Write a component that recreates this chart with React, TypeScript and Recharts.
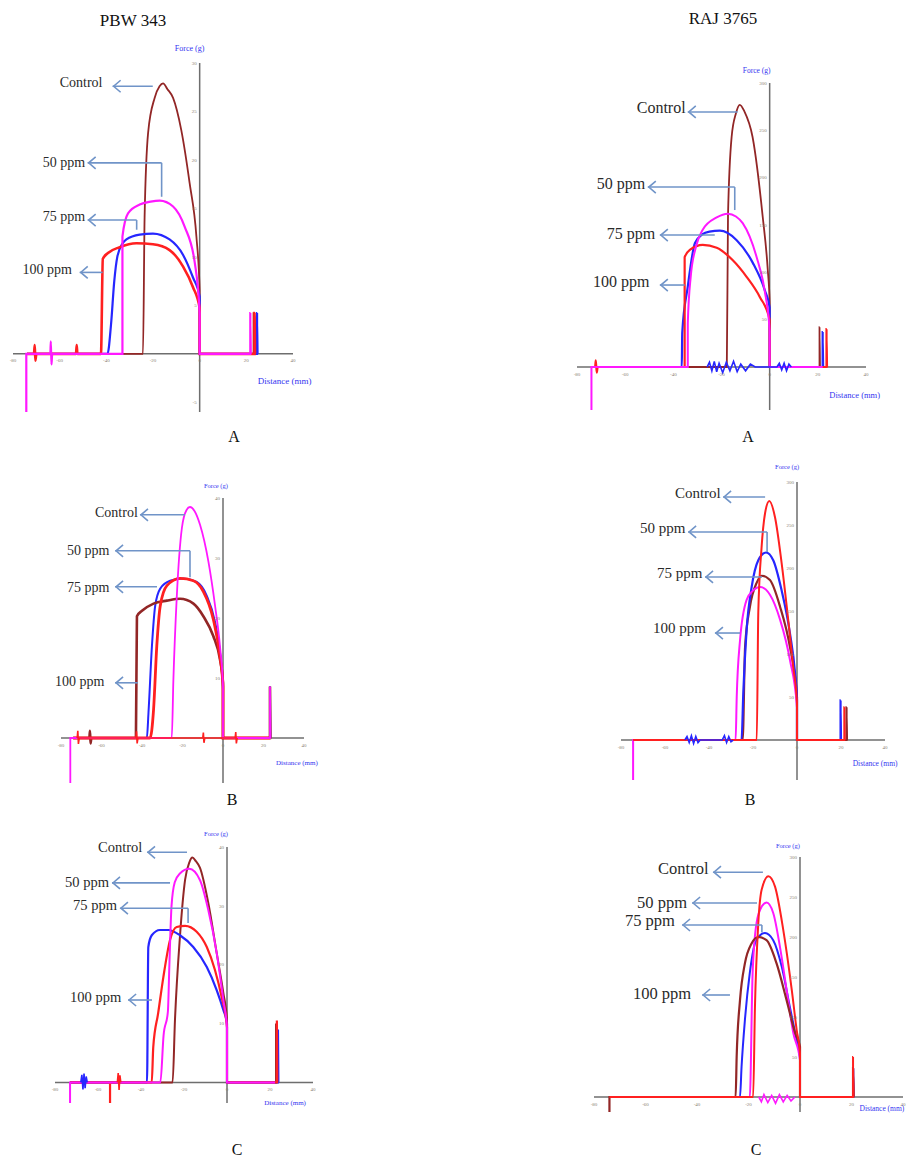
import React from "react";
import {
  LineChart,
  Line,
  XAxis,
  YAxis,
  ReferenceLine,
  ReferenceDot,
} from "recharts";

type Pair = [number, number];

const BROWN = "#922626";
const RED = "#ff2020";
const BLUE = "#2626ff";
const MAGENTA = "#ff18ff";
const ARROW = "#7094c8";
const AXIS = "#6e6e6e";
const TICK = "#8a8070";
const AXIS_TITLE = "#3434f0";

// distance ticks (mm), shared by all panels
const xTicks = [-80, -60, -40, -20, 0, 20, 40];
const pbwATicks = [30, 25, 20, 15, 10, 5, -5];
const pbwTicks = [40, 30, 20, 10];
const rajTicks = [300, 250, 200, 150, 100, 50];

// ---------- PBW 343, A ----------
const pbwA_control: Pair[] = [[-74.3, 0], [-24.3, 0], [-23.6, 14.1], [-22.1, 22.8], [-19.3, 26.4], [-17.2, 27.6], [-15.7, 27.9], [-13.8, 27.3], [-11.4, 26.4], [-7.9, 23.1], [-4.3, 17.6], [-1.4, 12.1], [0, 6.5], [0, 0], [23.1, 0], [23.1, 4.2], [23.3, 0]];
const pbwA_50: Pair[] = [[-74.3, -6.5], [-74.3, 0], [-64, 0], [-63.8, 1.3], [-63.5, -1.1], [-63.2, 0], [-33.1, 0], [-33.1, 12.1], [-30.7, 14.5], [-25.7, 15.4], [-21, 15.7], [-17.1, 15.8], [-11.4, 15.2], [-6.4, 13.1], [-2.1, 9.4], [0, 4.2], [0, 0], [21.7, 0], [21.7, 4.2], [21.9, 0]];
const pbwA_75: Pair[] = [[-74, 0], [-39.5, 0], [-38, 3], [-36.6, 7.5], [-35.3, 10], [-33, 11.4], [-31.4, 11.8], [-25.7, 12.3], [-20, 12.4], [-12.9, 11.8], [-7.1, 10.2], [-2.9, 7.9], [0, 5.9], [0, 0], [24.6, 0], [24.6, 4.2], [24.8, 0]];
const pbwA_100: Pair[] = [[-74, 0], [-71, 0], [-70.7, 0.9], [-70.4, -0.7], [-70, 0], [-53, 0], [-52.7, 0.9], [-52.4, 0], [-42.3, 0], [-41.5, 9.8], [-39.3, 10.4], [-34.3, 11], [-27.1, 11.4], [-20, 11.3], [-12.9, 10.7], [-7.1, 9], [-2.9, 6.9], [0, 4.7], [0, 0], [23.5, 0], [23.5, 4.2], [23.7, 0]];

// ---------- RAJ 3765, A ----------
const rajA_control: Pair[] = [[-74, 0], [-17.8, 0], [-17.3, 160], [-15.8, 243], [-14, 268], [-12.4, 277], [-10.5, 270], [-7.1, 243], [-2.9, 159], [-0.8, 103], [0, 68], [0, 0], [20.7, 0], [20.7, 42], [20.9, 0]];
const rajA_50: Pair[] = [[-74, -45.4], [-74, 0], [-34, 0], [-34, 46], [-32.8, 95], [-30.5, 128], [-27.8, 145], [-22, 158], [-17.4, 162], [-14, 159], [-11.2, 152], [-5.4, 116], [-2.1, 81], [0, 38], [0, 0], [22, 0]];
const rajA_75: Pair[] = [[-74, 0], [-36.5, 0], [-36.3, 36], [-34, 85], [-31, 131], [-28, 140], [-25, 143], [-20.7, 144], [-13.7, 134], [-7, 110], [-2, 81], [0, 63], [0, 0], [22, 0], [22, 37], [22.2, 0]];
const rajA_75_noise: Pair[] = [[-26, 0], [-25, 5], [-24, -4], [-23, 6], [-22, -5], [-21, 4], [-19.5, -6], [-18, 5], [-16.5, -4], [-15, 6], [-13.5, -5], [-12, 3], [-10, -4], [-8, 3], [-6, 0], [3, 0], [4, 4], [5, -3], [6, 4], [7, -4], [8, 3], [9, 0]];
const rajA_100: Pair[] = [[-74, 0], [-72.5, 0], [-72.2, 7], [-71.8, -6], [-71.4, 0], [-35.3, 0], [-35.3, 116], [-33, 124], [-27.8, 129], [-22, 126], [-15.4, 113], [-9.5, 95], [-4.1, 74], [0, 50], [0, 0], [23.6, 0], [23.6, 40], [23.8, 0]];

// ---------- PBW 343, B ----------
const pbwB_control: Pair[] = [[-75.4, -7.5], [-75.4, 0], [-25.3, 0], [-24.5, 9.7], [-22.8, 23.7], [-20.3, 35], [-18, 38], [-16.3, 38.5], [-14, 37.8], [-11.3, 35.5], [-7.2, 29.4], [-3.9, 22], [-1.5, 15.3], [0, 8.6], [0, 0], [23.2, 0], [23.2, 8.6], [23.4, 0]];
const pbwB_50: Pair[] = [[-74, 0], [-37.6, 0], [-36.8, 4.2], [-35.1, 15.3], [-33.5, 22], [-31, 24.9], [-26.1, 26.2], [-19.6, 26.6], [-13, 26], [-8, 23.7], [-3.9, 19.3], [-1.5, 14.3], [0, 8], [0, 0], [23.2, 0], [23.2, 8.6], [23.4, 0]];
const pbwB_75: Pair[] = [[-74, 0], [-36, 0], [-34.3, 4.7], [-32.7, 15.3], [-31, 22], [-27.7, 25.4], [-21.2, 26.6], [-14.6, 26.2], [-9.7, 24.4], [-4.8, 19.8], [-1.5, 13.6], [0, 8.6], [0, 0], [23.4, 0]];
const pbwB_75_noise: Pair[] = [[-72, 0], [-71.7, 1.2], [-71.4, -1], [-71, 0], [-43, 0], [-42.7, 1.1], [-42.4, -0.9], [-42, 0], [-10, 0], [-9.7, 0.9], [-9.4, -0.8], [-9, 0], [6, 0], [6.3, 1], [6.6, -0.9], [7, 0]];
const pbwB_100: Pair[] = [[-74, 0], [-66, 0], [-65.7, 1.2], [-65.4, -0.9], [-65, 0], [-43, 0], [-42.5, 20.3], [-40, 21.2], [-34.3, 22.4], [-27.7, 22.9], [-21.2, 23.2], [-14.6, 22.4], [-9.7, 20.3], [-4.8, 17], [-1.5, 13.1], [0, 9.2], [0, 0], [23.2, 0], [23.2, 8.6], [23.4, 0]];

// ---------- RAJ 3765, B ----------
const rajB_control: Pair[] = [[-74.5, 0], [-18.3, 0], [-17.6, 148], [-16.1, 224], [-14.5, 264], [-12.6, 278], [-10, 259], [-7, 206], [-4, 140], [-1.7, 85], [0, 43], [0, 0], [21.5, 0], [21.5, 38], [21.7, 0]];
const rajB_50: Pair[] = [[-74.5, 0], [-25.2, 0], [-24.4, 55], [-22.9, 128], [-20.6, 178], [-17.6, 209], [-14.1, 218], [-10.8, 209], [-7, 174], [-3.2, 124], [-0.9, 78], [0, 46], [0, 0], [19.8, 0], [19.8, 46], [20, 0]];
const rajB_50_noise: Pair[] = [[-51, 0], [-50, 4], [-49, -3], [-48, 5], [-47, -4], [-46, 4], [-45, -3], [-44, 0], [-34, 0], [-33, 5], [-32, -3], [-31, 4], [-30, -2], [-29, 0]];
const rajB_75: Pair[] = [[-74.5, 0], [-24.7, 0], [-23.6, 108], [-21.4, 155], [-18.3, 183], [-16.1, 191], [-12.3, 186], [-7.7, 155], [-3.2, 108], [0, 50], [0, 0], [22.5, 0], [22.5, 38], [22.7, 0]];
const rajB_100: Pair[] = [[-74.5, -46.5], [-74.5, 0], [-27.9, 0], [-27.4, 50], [-25.9, 116], [-22.9, 163], [-19.9, 174], [-16.8, 178], [-12.3, 169], [-7.7, 140], [-3.2, 93], [0, 38], [0, 0], [20.5, 0]];

// ---------- PBW 343, C ----------
const pbwC_control: Pair[] = [[-73, 0], [-25.3, 0], [-24.2, 10.6], [-21.9, 24.7], [-19.5, 34.4], [-17.5, 37.4], [-16.1, 38.2], [-14.5, 37.6], [-12.6, 36.5], [-8.7, 30.5], [-4.8, 22], [-1.7, 15.2], [0, 10.6], [0, 0], [22.8, 0], [22.8, 10], [23, 0]];
const pbwC_50: Pair[] = [[-73, -3.6], [-73, 0], [-31, 0], [-29.5, 8], [-27.5, 12], [-26.8, 20], [-25.8, 30], [-24.3, 34], [-21.9, 35.5], [-17.5, 36.3], [-12.6, 34.4], [-8.7, 29.3], [-4.8, 22], [-1.7, 14], [0, 9.2], [0, 0], [22.3, 0]];
const pbwC_75: Pair[] = [[-73, 0], [-54.4, 0], [-54.4, -3.6], [-54.4, 0], [-35, 0], [-34.3, 6], [-32, 11.8], [-29.6, 17.9], [-26.5, 24.2], [-23.4, 26.4], [-19.5, 26.6], [-14.1, 25.6], [-9.4, 23], [-5.6, 19.1], [-2.5, 14.5], [0, 9.4], [0, 0], [23.2, 0], [23.2, 10.5], [23.4, 0]];
const pbwC_75_noise: Pair[] = [[-51, 0], [-50.6, 1.6], [-50.2, -1.3], [-49.8, 1.2], [-49.4, 0]];
const pbwC_100: Pair[] = [[-73, 0], [-37.2, 0], [-36.6, 23], [-35, 25], [-31.2, 25.9], [-27.3, 25.9], [-21.9, 25], [-15.7, 23], [-9.4, 19.6], [-4.8, 15.7], [-1.7, 12.3], [0, 10], [0, 0], [23.7, 0], [23.7, 9], [23.9, 0]];
const pbwC_100_noise: Pair[] = [[-68, 0], [-67.5, 1.3], [-67, -1.2], [-66.5, 1.5], [-66, -1], [-65.5, 1], [-65, 0]];

// ---------- RAJ 3765, C ----------
const rajC_control: Pair[] = [[-74, 0], [-18.2, 0], [-17.5, 112], [-16.2, 217], [-14.9, 259], [-12.3, 276], [-9.7, 263], [-6.5, 209], [-3.2, 134], [-1.3, 84], [0, 55], [0, 0], [20.6, 0], [20.6, 50], [20.8, 0]];
const rajC_50: Pair[] = [[-74, 0], [-19.5, 0], [-18.4, 155], [-16.9, 217], [-14.9, 238], [-13, 243], [-10.4, 230], [-7.8, 188], [-5.2, 134], [-2.6, 80], [0, 46], [0, 0], [20.6, 0]];
const rajC_50_noise: Pair[] = [[-16, 0], [-15, -6], [-14, 3], [-12.5, -7], [-11, 2], [-9.5, -8], [-8, 3], [-6.5, -6], [-5, 2], [-3.5, -5], [-2, 0]];
const rajC_75: Pair[] = [[-74, 0], [-23.3, 0], [-22.7, 37.5], [-21.4, 96], [-19.5, 155], [-17.5, 192], [-15.6, 202], [-13.6, 205], [-10.4, 196], [-7.1, 163], [-3.9, 112], [-1.3, 71], [0, 50], [0, 0], [20.7, 0], [20.7, 36], [20.9, 0]];
const rajC_100: Pair[] = [[-74, -18.75], [-74, 0], [-25, 0], [-24.6, 50], [-23.3, 121], [-21.4, 167], [-18.8, 192], [-16.2, 200], [-13, 196], [-9.1, 167], [-5.2, 121], [-1.9, 80], [0, 63], [0, 0], [20.6, 0], [20.6, 36], [20.8, 0]];

// label text position + arrow path (data units), per panel
type Note = { text: string; at: Pair; arrow: Pair[] };
const labels = ["Control", "50 ppm", "75 ppm", "100 ppm"];

const pbwANotes: Note[] = [
  { text: labels[0], at: [-60, 28], arrow: [[-20.1, 27.6], [-37.3, 27.6]] },
  { text: labels[1], at: [-67.3, 19.8], arrow: [[-16.3, 16.2], [-16.3, 19.7], [-48, 19.7]] },
  { text: labels[2], at: [-67.3, 14.2], arrow: [[-27, 12.8], [-27, 13.8], [-48, 13.8]] },
  { text: labels[3], at: [-75.9, 8.7], arrow: [[-41.6, 8.4], [-51.4, 8.4]] },
];
const rajANotes: Note[] = [
  { text: labels[0], at: [-55.2, 274.6], arrow: [[-13.3, 269.4], [-34, 269.4]] },
  { text: labels[1], at: [-71.8, 194.4], arrow: [[-14.5, 165.8], [-14.5, 190.1], [-50.6, 190.1]] },
  { text: labels[2], at: [-67.6, 141.5], arrow: [[-22.8, 139.4], [-45.6, 139.4]] },
  { text: labels[3], at: [-73.4, 90.8], arrow: [[-35.3, 86.6], [-45.6, 86.6]] },
];
const pbwBNotes: Note[] = [
  { text: labels[0], at: [-63.2, 37.7], arrow: [[-18.8, 37.2], [-41, 37.2]] },
  { text: labels[1], at: [-77, 31.3], arrow: [[-16.3, 26.8], [-16.3, 31.2], [-53.3, 31.2]] },
  { text: labels[2], at: [-77, 25.2], arrow: [[-32.6, 25.2], [-53.3, 25.2]] },
  { text: labels[3], at: [-83, 9.5], arrow: [[-42, 9.2], [-53.3, 9.2]] },
];
const rajBNotes: Note[] = [
  { text: labels[0], at: [-55.5, 287.3], arrow: [[-14.5, 282.6], [-33.6, 282.6]] },
  { text: labels[1], at: [-71.4, 246.6], arrow: [[-13.6, 218.6], [-13.6, 241.9], [-49.5, 241.9]] },
  { text: labels[2], at: [-63.6, 194.2], arrow: [[-15.9, 189.6], [-41.8, 189.6]] },
  { text: labels[3], at: [-65.5, 130.3], arrow: [[-25.9, 124.4], [-37.3, 124.4]] },
];
const pbwCNotes: Note[] = [
  { text: labels[0], at: [-60, 40], arrow: [[-18.6, 39.1], [-37.2, 39.1]] },
  { text: labels[1], at: [-75.3, 34], arrow: [[-26.5, 33.9], [-53.5, 33.9]] },
  { text: labels[2], at: [-71.6, 30.1], arrow: [[-18.1, 27.1], [-18.1, 29.6], [-49.8, 29.6]] },
  { text: labels[3], at: [-73, 14.5], arrow: [[-34.9, 14], [-46, 14]] },
];
const rajCNotes: Note[] = [
  { text: labels[0], at: [-55.1, 286], arrow: [[-14.4, 281], [-33.8, 281]] },
  { text: labels[1], at: [-63.3, 244], arrow: [[-16.7, 242.5], [-41.9, 242.5]] },
  { text: labels[2], at: [-68, 221], arrow: [[-14.8, 206], [-14.8, 215], [-45.8, 215]] },
  { text: labels[3], at: [-64.9, 130], arrow: [[-27.2, 127.5], [-38, 127.5]] },
];

type Series = { data: Pair[]; color: string; width?: number; noise?: boolean };
type PanelCfg = {
  rect: { left: number; top: number; w: number; h: number };
  yDomain: [number, number];
  yTicks: number[];
  series: Series[];
  notes: Note[];
  noteSize: number;
  force: { x: number; offset: number; size: number };
  dist: { x: number; offset: number; size: number };
};

const panels: PanelCfg[] = [
  {
    rect: { left: 13, top: 63, w: 280, h: 349 },
    yDomain: [-6, 30],
    yTicks: pbwATicks,
    series: [
      { data: pbwA_control, color: BROWN },
      { data: pbwA_75, color: BLUE, width: 2.2 },
      { data: pbwA_100, color: RED, width: 2.6 },
      { data: pbwA_50, color: MAGENTA, width: 2.2 },
    ],
    notes: pbwANotes,
    noteSize: 14,
    force: { x: -4.3, offset: 12, size: 8 },
    dist: { x: 36.4, offset: 24, size: 9 },
  },
  {
    rect: { left: 577, top: 83, w: 289, h: 327 },
    yDomain: [-45.4, 300],
    yTicks: rajTicks,
    series: [
      { data: rajA_control, color: BROWN },
      { data: rajA_75, color: BLUE, width: 2.2 },
      { data: rajA_100, color: RED, width: 2.2 },
      { data: rajA_50, color: MAGENTA, width: 2 },
      { data: rajA_75_noise, color: BLUE, width: 1.6, noise: true },
    ],
    notes: rajANotes,
    noteSize: 16,
    force: { x: -5.4, offset: 10, size: 7.5 },
    dist: { x: 35.3, offset: 25, size: 8.5 },
  },
  {
    rect: { left: 61, top: 498, w: 243, h: 285 },
    yDomain: [-7.5, 40],
    yTicks: pbwTicks,
    series: [
      { data: pbwB_50, color: BLUE, width: 2 },
      { data: pbwB_100, color: BROWN, width: 2.6 },
      { data: pbwB_75, color: RED, width: 2.8 },
      { data: pbwB_control, color: MAGENTA, width: 1.8 },
      { data: pbwB_75_noise, color: RED, width: 1.6, noise: true },
    ],
    notes: pbwBNotes,
    noteSize: 14,
    force: { x: -3.5, offset: 10.5, size: 6.5 },
    dist: { x: 36.5, offset: 22, size: 7 },
  },
  {
    rect: { left: 621, top: 482, w: 264, h: 298 },
    yDomain: [-46.5, 300],
    yTicks: rajTicks,
    series: [
      { data: rajB_75, color: BROWN, width: 2.2 },
      { data: rajB_50, color: BLUE, width: 2.2 },
      { data: rajB_100, color: MAGENTA, width: 2 },
      { data: rajB_control, color: RED, width: 2 },
      { data: rajB_50_noise, color: BLUE, width: 1.6, noise: true },
    ],
    notes: rajBNotes,
    noteSize: 15,
    force: { x: -4.5, offset: 13.5, size: 6.5 },
    dist: { x: 35.5, offset: 21, size: 7.5 },
  },
  {
    rect: { left: 55, top: 847, w: 258, h: 256 },
    yDomain: [-3.5, 40],
    yTicks: pbwTicks,
    series: [
      { data: pbwC_control, color: BROWN, width: 2 },
      { data: pbwC_100, color: BLUE, width: 2.2 },
      { data: pbwC_75, color: RED, width: 2.2 },
      { data: pbwC_50, color: MAGENTA, width: 2 },
      { data: pbwC_100_noise, color: BLUE, width: 1.6, noise: true },
      { data: pbwC_75_noise, color: RED, width: 1.6, noise: true },
    ],
    notes: pbwCNotes,
    noteSize: 14.5,
    force: { x: -5.1, offset: 11.5, size: 6.5 },
    dist: { x: 27, offset: 17.5, size: 7 },
  },
  {
    rect: { left: 594, top: 857, w: 309, h: 255 },
    yDomain: [-18.75, 300],
    yTicks: rajTicks,
    series: [
      { data: rajC_75, color: BLUE, width: 2 },
      { data: rajC_50, color: MAGENTA, width: 2 },
      { data: rajC_100, color: BROWN, width: 2.2 },
      { data: rajC_control, color: RED, width: 2 },
      { data: rajC_50_noise, color: MAGENTA, width: 1.6, noise: true },
    ],
    notes: rajCNotes,
    noteSize: 16.5,
    force: { x: -4.7, offset: 9.5, size: 6.5 },
    dist: { x: 31.8, offset: 9, size: 7.5 },
  },
];

const toPoints = (d: Pair[]) => d.map(([x, y]) => ({ x, y }));

// last arrow segment gets an open chevron at its left end
const arrowHead = (p: any) => {
  const lx = Math.min(p.x1, p.x2);
  const rx = Math.max(p.x1, p.x2);
  const y = p.y1;
  return (
    <g>
      <line x1={lx} y1={y} x2={rx} y2={p.y2} stroke={ARROW} strokeWidth={1.6} />
      <path
        d={`M${lx + 8},${y - 6} L${lx + 1},${y} L${lx + 8},${y + 6}`}
        fill="none"
        stroke={ARROW}
        strokeWidth={1.6}
      />
    </g>
  );
};

const M = { top: 40, right: 50, bottom: 40, left: 50 };

function Panel({ cfg }: { cfg: PanelCfg }) {
  const { rect } = cfg;
  const ymax = cfg.yDomain[1];
  return (
    <div style={{ position: "absolute", left: rect.left - M.left, top: rect.top - M.top }}>
      <LineChart width={rect.w + M.left + M.right} height={rect.h + M.top + M.bottom} margin={M}>
        <XAxis type="number" dataKey="x" domain={[-80, 40]} hide allowDataOverflow />
        <YAxis type="number" dataKey="y" domain={cfg.yDomain} hide allowDataOverflow />
        <ReferenceLine x={0} stroke={AXIS} strokeWidth={1.5} ifOverflow="visible" />
        <ReferenceLine y={0} stroke={AXIS} strokeWidth={1.5} ifOverflow="visible" />
        {xTicks.map((t) => (
          <ReferenceDot
            key={`xt${t}`}
            x={t}
            y={0}
            r={0}
            fill="none"
            stroke="none"
            ifOverflow="visible"
            label={{ value: String(t), position: "bottom", offset: 5, fontSize: 5, fill: TICK }}
          />
        ))}
        {cfg.yTicks.map((t) => (
          <ReferenceDot
            key={`yt${t}`}
            x={0}
            y={t}
            r={0}
            fill="none"
            stroke="none"
            ifOverflow="visible"
            label={{ value: String(t), position: "left", offset: 3, fontSize: 5, fill: TICK }}
          />
        ))}
        <ReferenceDot
          x={cfg.force.x}
          y={ymax}
          r={0}
          fill="none"
          stroke="none"
          ifOverflow="visible"
          label={{ value: "Force  (g)", position: "top", offset: cfg.force.offset, fontSize: cfg.force.size, fill: AXIS_TITLE }}
        />
        <ReferenceDot
          x={cfg.dist.x}
          y={0}
          r={0}
          fill="none"
          stroke="none"
          ifOverflow="visible"
          label={{ value: "Distance (mm)", position: "bottom", offset: cfg.dist.offset, fontSize: cfg.dist.size, fill: AXIS_TITLE }}
        />
        {cfg.series.map((s, i) => (
          <Line
            key={`s${i}`}
            data={toPoints(s.data)}
            dataKey="y"
            type={s.noise ? "linear" : "monotone"}
            stroke={s.color}
            strokeWidth={s.width ?? 1.8}
            dot={false}
            activeDot={false}
            isAnimationActive={false}
          />
        ))}
        {cfg.notes.map((n, i) =>
          n.arrow.slice(1).map((p, j) => (
            <ReferenceLine
              key={`a${i}-${j}`}
              segment={[
                { x: n.arrow[j][0], y: n.arrow[j][1] },
                { x: p[0], y: p[1] },
              ]}
              stroke={ARROW}
              strokeWidth={1.6}
              ifOverflow="visible"
              shape={j === n.arrow.length - 2 ? arrowHead : undefined}
            />
          ))
        )}
        {cfg.notes.map((n, i) => (
          <ReferenceDot
            key={`n${i}`}
            x={n.at[0]}
            y={n.at[1]}
            r={0}
            fill="none"
            stroke="none"
            ifOverflow="visible"
            label={{ value: n.text, position: "right", offset: 0, fontSize: cfg.noteSize, fill: "#2a2a2a" }}
          />
        ))}
      </LineChart>
    </div>
  );
}

const captions = [
  { text: "PBW 343", x: 133, y: 20, size: 17 },
  { text: "RAJ 3765", x: 723, y: 18, size: 17 },
  { text: "A", x: 234, y: 437, size: 16 },
  { text: "A", x: 748, y: 437, size: 16 },
  { text: "B", x: 232, y: 800, size: 16 },
  { text: "B", x: 750, y: 800, size: 16 },
  { text: "C", x: 237, y: 1150, size: 16 },
  { text: "C", x: 756, y: 1150, size: 16 },
];

export default function App() {
  return (
    <div
      style={{
        position: "absolute",
        left: 0,
        top: 0,
        width: 912,
        height: 1165,
        overflow: "hidden",
        background: "#ffffff",
        fontFamily: "'Liberation Serif', 'Times New Roman', serif",
      }}
    >
      {panels.map((p, i) => (
        <Panel key={i} cfg={p} />
      ))}
      {captions.map((c, i) => (
        <div
          key={`c${i}`}
          style={{
            position: "absolute",
            left: c.x,
            top: c.y,
            transform: "translate(-50%, -50%)",
            fontSize: c.size,
            color: "#111",
            whiteSpace: "nowrap",
            lineHeight: 1,
          }}
        >
          {c.text}
        </div>
      ))}
    </div>
  );
}
